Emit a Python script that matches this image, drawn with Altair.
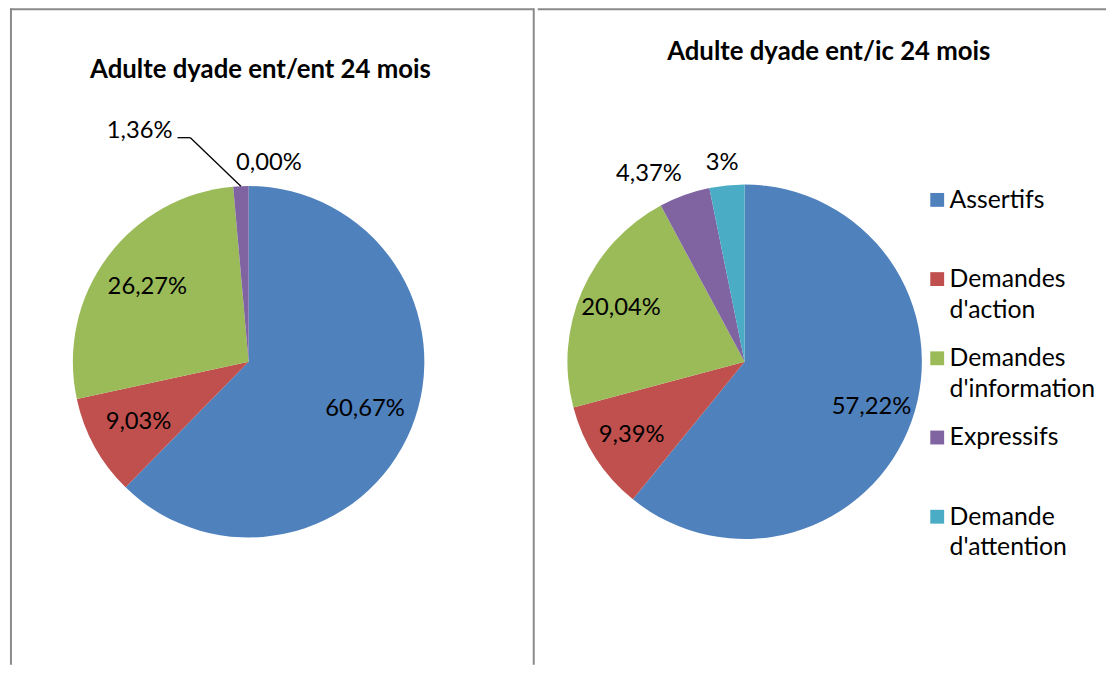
import altair as alt
import pandas as pd

# ---- data ----
categories = ["Assertifs", "Demandes d'action", "Demandes d'information",
              "Expressifs", "Demande d'attention"]
colors = ["#4F81BD", "#C0504D", "#9BBB59", "#8064A2", "#4BACC6"]

left_values = [60.67, 9.03, 26.27, 1.36, 0.00]
left_labels = ["60,67%", "9,03%", "26,27%", "1,36%", "0,00%"]

right_values = [57.22, 9.39, 20.04, 4.37, 3.0]
right_labels = ["57,22%", "9,39%", "20,04%", "4,37%", "3%"]

titles = ["Adulte dyade ent/ent 24 mois", "Adulte dyade ent/ic 24 mois"]

FONT = "Lato"
LABEL_SIZE = 24
FRAME = "#8a8a8a"
PANEL_H = 663


def frame_rules(width, sides):
    """Plain frame lines of an Excel chart area (not data)."""
    dummy = pd.DataFrame({"k": [0]})
    layers = []
    if "top" in sides:
        layers.append(alt.Chart(dummy).mark_rule(color=FRAME, strokeWidth=2).encode(
            x=alt.value(0), x2=alt.value(width), y=alt.value(1)))
    if "left" in sides:
        layers.append(alt.Chart(dummy).mark_rule(color=FRAME, strokeWidth=2).encode(
            x=alt.value(1), y=alt.value(0), y2=alt.value(PANEL_H)))
    if "right" in sides:
        layers.append(alt.Chart(dummy).mark_rule(color=FRAME, strokeWidth=2).encode(
            x=alt.value(width), y=alt.value(0), y2=alt.value(PANEL_H)))
    return layers


def pie_panel(values, labels, title, width, cx, cy, radius, label_r,
              title_x, title_y, show_legend, sides):
    df = pd.DataFrame({
        "cat": categories,
        "value": values,
        "label": labels,
        "idx": list(range(len(categories))),
    })
    legend = None
    if show_legend:
        legend = alt.Legend(
            title=None, orient="none", legendX=391, legendY=181,
            symbolType="square", symbolSize=196, symbolStrokeWidth=0,
            labelFont=FONT, labelFontSize=25, labelColor="black",
            labelExpr="split(datum.label, ' ')", rowPadding=23,
            gridAlign="all", labelOffset=0, padding=0, labelLimit=400,
        )
    color = alt.Color("cat:N", scale=alt.Scale(domain=categories, range=colors),
                      legend=legend)

    arcs = alt.Chart(df).mark_arc(x=cx, y=cy, outerRadius=radius).encode(
        theta=alt.Theta("value:Q", stack=True),
        color=color,
        order=alt.Order("idx:Q", sort="ascending"),
    )

    base = alt.Chart(df).transform_window(
        cum="sum(value)", sort=[alt.SortField("idx", order="ascending")]
    ).transform_joinaggregate(
        total="sum(value)"
    ).transform_calculate(
        share="datum.value / datum.total",
        a="2 * PI * (datum.cum - datum.value / 2) / datum.total",
    )

    txt = dict(font=FONT, fontSize=LABEL_SIZE, color="black")

    inside = base.transform_filter("datum.share >= 0.05").transform_calculate(
        lx=f"{cx} + {label_r} * sin(datum.a)",
        ly=f"{cy} - {label_r} * cos(datum.a)",
    ).mark_text(align="center", baseline="middle", **txt).encode(
        x=alt.X("lx:Q", scale=None, axis=None),
        y=alt.Y("ly:Q", scale=None, axis=None),
        text="label:N",
    )

    outside = base.transform_filter(
        "datum.share < 0.05 && (datum.share >= 0.02 || datum.value == 0)"
    ).transform_calculate(
        px=f"{cx} + {radius + 10} * sin(datum.a)",
        py=f"{cy} - {radius + 10} * cos(datum.a)",
        w="13 * length(datum.label)",
        lx="datum.value == 0 ? datum.px + datum.w / 2 - 12 : "
           "datum.px + clamp(3 * sin(datum.a), -1, 1) * datum.w / 2",
        ly="datum.py - cos(datum.a) * 13",
    ).mark_text(align="center", baseline="middle", **txt).encode(
        x=alt.X("lx:Q", scale=None, axis=None),
        y=alt.Y("ly:Q", scale=None, axis=None),
        text="label:N",
    )

    lead = base.transform_filter(
        "datum.value > 0 && datum.share < 0.02"
    ).transform_calculate(
        ex=f"{cx} + {radius} * sin(datum.a)",
        ey=f"{cy} - {radius} * cos(datum.a)",
        bx="datum.ex - 51",
        by="datum.ey - 49",
        tx="datum.bx - 13",
    )
    seg1 = lead.mark_rule(color="black", strokeWidth=1.3).encode(
        x=alt.X("ex:Q", scale=None, axis=None),
        y=alt.Y("ey:Q", scale=None, axis=None),
        x2="bx:Q", y2="by:Q",
    )
    seg2 = lead.mark_rule(color="black", strokeWidth=1.3).encode(
        x=alt.X("bx:Q", scale=None, axis=None),
        y=alt.Y("by:Q", scale=None, axis=None),
        x2="tx:Q", y2="by:Q",
    )
    lead_lab = lead.mark_text(align="right", baseline="alphabetic", dx=-5,
                              **txt).encode(
        x=alt.X("tx:Q", scale=None, axis=None),
        y=alt.Y("by:Q", scale=None, axis=None),
        text="label:N",
    )

    ttl = alt.Chart(pd.DataFrame({"title": [title]})).mark_text(
        x=title_x, y=title_y, font=FONT, fontSize=26, fontWeight="bold",
        color="black", align="center", baseline="alphabetic",
    ).encode(text="title:N")

    layers = frame_rules(width, sides) + [arcs, inside, outside, seg1, seg2,
                                          lead_lab, ttl]
    return alt.layer(*layers).properties(width=width, height=PANEL_H)


left = pie_panel(left_values, left_labels, titles[0], 529,
                 241, 357, 177.5, 127, 253, 70, False, ("top", "left", "right"))
right = pie_panel(right_values, right_labels, titles[1], 574,
                  209, 357, 179, 136, 294, 52, True, ("top",))

chart = alt.hconcat(left, right, spacing=0).resolve_scale(
    color="independent"
).properties(
    padding={"left": 0, "top": -5, "right": 0, "bottom": 0}
).configure(
    view=alt.ViewConfig(stroke="transparent"),
    style={"guide-label": {"lineHeight": 31}},
)

chart.save("out.html", embed_options={"renderer": "svg", "actions": False})
